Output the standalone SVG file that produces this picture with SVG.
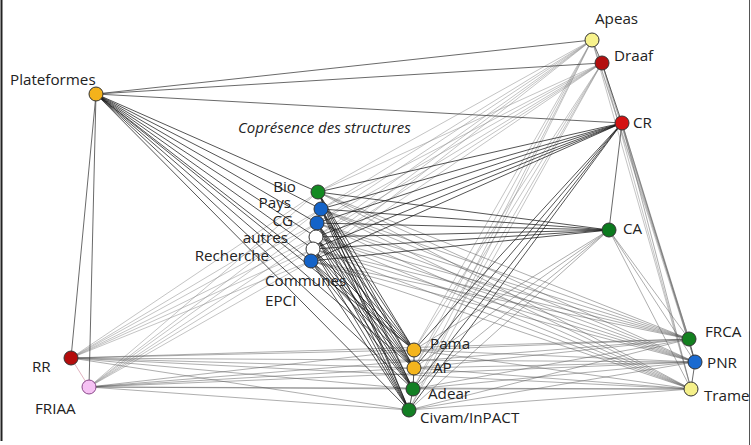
<svg xmlns="http://www.w3.org/2000/svg" width="751" height="445" viewBox="0 0 751 445">
<style>
.lbl{font-family:"Open Sans","Liberation Sans",sans-serif;font-size:15.2px;fill:#222}
.end{text-anchor:end}
.cap{font-family:"Open Sans","Liberation Sans",sans-serif;font-size:15px;font-style:italic;fill:#222}
.e{fill:none;stroke-linecap:round}
.dark{stroke:#111;stroke-width:0.8;stroke-opacity:0.9}
.mid{stroke:#555;stroke-width:0.6;stroke-opacity:0.8}
.light{stroke:#8a8a8a;stroke-width:0.6;stroke-opacity:0.85}
.str{stroke:#444;stroke-width:0.8}
.n{stroke:#333;stroke-width:1}
</style>
<rect width="751" height="445" fill="#fff"/>
<line x1="1.5" y1="0" x2="1.5" y2="441" stroke="#222" stroke-width="2"/>
<line x1="749.5" y1="0" x2="749.5" y2="445" stroke="#555" stroke-width="1"/>
<g id="connectors">
<path class="e light" d="M318 192L592 40M318 192L602 63M321 209L592 40M321 209L602 63M317 223L592 40M317 223L602 63M316 237L592 40M316 237L602 63M313 249L592 40M313 249L602 63M311 261L592 40M311 261L602 63M414 350L592 40M414 350L602 63M414 368L592 40M414 368L602 63M413 389L592 40M413 389L602 63M409 410L592 40M409 410L602 63M592 40L689 339M592 40L695 362M592 40L691 389M602 63L689 339M602 63L695 362M602 63L691 389M71 358L318 192M71 358L321 209M71 358L317 223M71 358L316 237M71 358L313 249M71 358L311 261M89 387L318 192M89 387L321 209M89 387L317 223M89 387L316 237M89 387L313 249M89 387L311 261"/>
<path class="e mid" d="M318 192L689 339M318 192L695 362M318 192L691 389M321 209L689 339M321 209L695 362M321 209L691 389M317 223L689 339M317 223L695 362M317 223L691 389M316 237L689 339M316 237L695 362M316 237L691 389M313 249L689 339M313 249L695 362M313 249L691 389M311 261L689 339M311 261L695 362M311 261L691 389M414 350L689 339M414 350L695 362M414 350L691 389M414 368L689 339M414 368L695 362M414 368L691 389M413 389L689 339M413 389L695 362M413 389L691 389M409 410L689 339M409 410L695 362M409 410L691 389M414 350L609 230M414 368L609 230M413 389L609 230M409 410L609 230M609 230L689 339M609 230L695 362M609 230L691 389M622 123L689 339M622 123L695 362M622 123L691 389M71 358L414 350M71 358L414 368M71 358L413 389M71 358L409 410M71 358L689 339M71 358L695 362M71 358L691 389M89 387L414 350M89 387L414 368M89 387L413 389M89 387L409 410M89 387L689 339M89 387L695 362M89 387L691 389"/>
<path class="e dark" d="M96 94L318 192M96 94L321 209M96 94L317 223M96 94L316 237M96 94L313 249M96 94L311 261M96 94L414 350M96 94L414 368M96 94L413 389M96 94L409 410M318 192L622 123M321 209L622 123M317 223L622 123M316 237L622 123M313 249L622 123M311 261L622 123M318 192L609 230M321 209L609 230M317 223L609 230M316 237L609 230M313 249L609 230M311 261L609 230M414 350L622 123M414 368L622 123M413 389L622 123M409 410L622 123M318 192L414 350M318 192L414 368M318 192L413 389M318 192L409 410M321 209L414 350M321 209L414 368M321 209L413 389M321 209L409 410M317 223L414 350M317 223L414 368M317 223L413 389M317 223L409 410M316 237L414 350M316 237L414 368M316 237L413 389M316 237L409 410M313 249L414 350M313 249L414 368M313 249L413 389M313 249L409 410M311 261L414 350M311 261L414 368M311 261L413 389M311 261L409 410M414 350L414 368L413 389L409 410"/>
<path class="e str" d="M96 94L592 40M96 94L602 63M96 94L622 123M96 94L71 358M96 94L89 387M592 40L602 63L622 123L609 230M689 339L695 362L691 389"/>
<path class="e" stroke="#d9a0b0" stroke-width="0.8" d="M71 358L89 387"/>
</g>
<text class="cap" x="238" y="133">Coprésence des structures</text>
<g id="apeas"><circle class="n" cx="592" cy="40" r="7" fill="#f7f28c"/><text class="lbl" x="595" y="24">Apeas</text></g>
<g id="draaf"><circle class="n" cx="602" cy="63" r="7" fill="#b30f0f"/><text class="lbl" x="614" y="61">Draaf</text></g>
<g id="cr"><circle class="n" cx="622" cy="123" r="7" fill="#d41111"/><text class="lbl" x="633" y="128">CR</text></g>
<g id="ca"><circle class="n" cx="609" cy="230" r="7" fill="#0b7a1e"/><text class="lbl" x="623" y="234">CA</text></g>
<g id="plateformes"><circle class="n" cx="96" cy="94" r="7" fill="#f4b21b"/><text class="lbl" x="10" y="85">Plateformes</text></g>
<g id="bio"><circle class="n" cx="318" cy="192" r="7" fill="#138a22"/><text class="lbl end" x="296" y="192">Bio</text></g>
<g id="pays"><circle class="n" cx="321" cy="209" r="7" fill="#1463c8"/><text class="lbl end" x="291" y="208">Pays</text></g>
<g id="cg"><circle class="n" cx="317" cy="223" r="7" fill="#1463c8"/><text class="lbl end" x="293" y="226">CG</text></g>
<g id="autres"><circle class="n" cx="316" cy="237" r="7" fill="#fff"/><text class="lbl end" x="288" y="243">autres</text></g>
<g id="recherche"><circle class="n" cx="313" cy="249" r="7" fill="#fff"/><text class="lbl end" x="269" y="261">Recherche</text></g>
<g id="communes"><circle class="n" cx="311" cy="261" r="7" fill="#1463c8"/><text class="lbl" x="265" y="286">Communes</text></g>
<g id="epci"><text class="lbl" x="265" y="306">EPCI</text></g>
<g id="pama"><circle class="n" cx="414" cy="350" r="7" fill="#f4b51e"/><text class="lbl" x="430" y="349">Pama</text></g>
<g id="ap"><circle class="n" cx="414" cy="368" r="7" fill="#f4b51e"/><text class="lbl" x="433" y="373">AP</text></g>
<g id="adear"><circle class="n" cx="413" cy="389" r="7" fill="#137f24"/><text class="lbl" x="428" y="399">Adear</text></g>
<g id="civam"><circle class="n" cx="409" cy="410" r="7" fill="#137f24"/><text class="lbl" x="420" y="423">Civam/InPACT</text></g>
<g id="frca"><circle class="n" cx="689" cy="339" r="7" fill="#13801f"/><text class="lbl" x="705" y="337">FRCA</text></g>
<g id="pnr"><circle class="n" cx="695" cy="362" r="7" fill="#1a6ad0"/><text class="lbl" x="707" y="368">PNR</text></g>
<g id="trame"><circle class="n" cx="691" cy="389" r="7" fill="#f5f08a"/><text class="lbl" x="704" y="401">Trame</text></g>
<g id="rr"><circle class="n" cx="71" cy="358" r="7" fill="#b40c0c"/><text class="lbl" x="32" y="372">RR</text></g>
<g id="friaa"><circle cx="89" cy="387" r="7" fill="#f6c2f4" stroke="#8a4a8a" stroke-width="1"/><text class="lbl" x="35" y="414">FRIAA</text></g>
</svg>
